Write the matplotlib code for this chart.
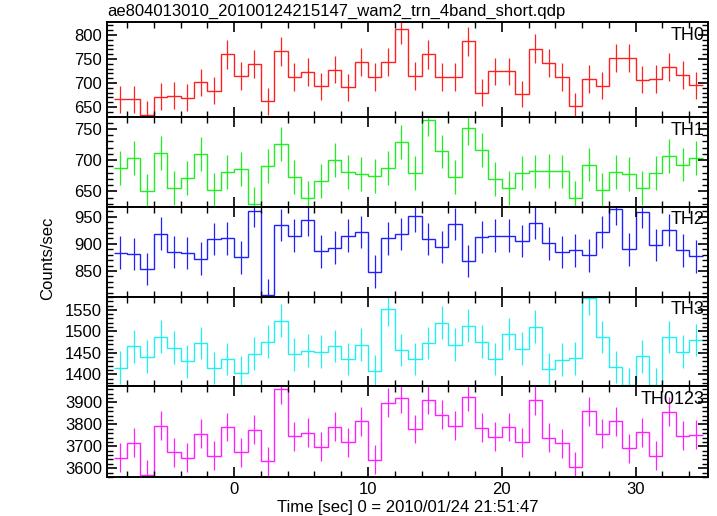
import numpy as np
import matplotlib
matplotlib.use("Agg")
import matplotlib.pyplot as plt
from matplotlib.ticker import MultipleLocator

plt.rcParams['font.family'] = ['Liberation Sans', 'DejaVu Sans']

# bin edges (1 s bins from -9 to 35)
edges = np.arange(-9, 36, 1)
centers = edges[:-1] + 0.5

th0 = [666, 666, 634, 671, 673, 669, 701, 684, 760, 714, 739, 662, 766, 712, 723,
       693, 728, 691, 743, 712, 744, 812, 715, 760, 712, 712, 787, 680, 724, 724,
       677, 771, 741, 712, 651, 708, 694, 752, 752, 707, 709, 733, 716, 695]
th0_err = [28, 28, 28, 28, 28, 28, 29, 28, 30, 29, 29, 28, 30, 29, 29,
           28, 29, 28, 29, 29, 29, 31, 29, 30, 29, 29, 30, 28, 29, 29,
           28, 30, 29, 29, 28, 29, 28, 30, 30, 29, 29, 29, 29, 28]

th1 = [688, 704, 651, 711, 655, 672, 710, 653, 681, 686, 630, 691, 726, 673, 639,
       667, 700, 681, 678, 675, 688, 729, 679, 765, 714, 673, 752, 716, 670, 655,
       679, 682, 683, 682, 639, 693, 653, 681, 678, 655, 680, 707, 693, 703]
th1_err = [27] * 44

th2 = [884, 881, 854, 919, 885, 883, 873, 909, 910, 875, 961, 806, 935, 915, 944,
       886, 893, 915, 922, 849, 910, 918, 952, 909, 894, 937, 868, 913, 915, 915,
       905, 939, 901, 885, 888, 879, 922, 964, 890, 959, 898, 926, 888, 877]
th2_err = [30] * 44

th3 = [1416, 1465, 1441, 1488, 1462, 1430, 1473, 1415, 1436, 1404, 1448, 1476, 1525, 1447, 1455,
       1453, 1466, 1436, 1469, 1408, 1551, 1457, 1436, 1473, 1520, 1469, 1513, 1476, 1436, 1494,
       1460, 1511, 1412, 1434, 1437, 1577, 1487, 1417, 1376, 1442, 1376, 1487, 1453, 1480]
th3_err = [38] * 44

th0123 = [3648, 3716, 3571, 3793, 3672, 3648, 3757, 3657, 3788, 3672, 3776, 3631, 3960, 3746, 3761,
          3698, 3790, 3719, 3815, 3639, 3899, 3919, 3779, 3912, 3844, 3793, 3927, 3784, 3744, 3788,
          3719, 3910, 3738, 3713, 3607, 3859, 3757, 3815, 3691, 3764, 3658, 3857, 3749, 3753]
th0123_err = [66] * 44

series = [
    ("TH0", th0, th0_err, "#ff2020", (629, 827), 50, 10),
    ("TH1", th1, th1_err, "#20ee20", (625, 769), 50, 10),
    ("TH2", th2, th2_err, "#2020ff", (802, 968), 50, 10),
    ("TH3", th3, th3_err, "#20f0f0", (1373, 1580), 50, 10),
    ("TH0123", th0123, th0123_err, "#ff20ff", (3560, 3975), 100, 20),
]

W, H = 717, 516
fig = plt.figure(figsize=(W / 100, H / 100), dpi=100)

# panel boundaries in pixels
bounds = [22, 117, 207, 297, 386, 477]
left, right = 107, 708

for i, (name, vals, errs, col, ylim, major, minor) in enumerate(series):
    top, bot = bounds[i], bounds[i + 1]
    ax = fig.add_axes([left / W, 1 - bot / H, (right - left) / W, (bot - top) / H])
    ax.stairs(vals, edges, color=col, lw=1.0, baseline=None)
    ax.vlines(centers, np.array(vals) - np.array(errs), np.array(vals) + np.array(errs),
              color=col, lw=0.9)
    ax.set_xlim(-9.5, 35.4)
    ax.set_ylim(*ylim)
    ax.xaxis.set_major_locator(MultipleLocator(10))
    ax.xaxis.set_minor_locator(MultipleLocator(2))
    ax.yaxis.set_major_locator(MultipleLocator(major))
    ax.yaxis.set_minor_locator(MultipleLocator(minor))
    ax.tick_params(which='both', direction='in', top=True, right=True, labelsize=12)
    ax.tick_params(which='major', length=7, width=1.2)
    ax.tick_params(which='minor', length=4, width=1)
    for sp in ax.spines.values():
        sp.set_linewidth(1.4)
    if i < len(series) - 1:
        ax.tick_params(labelbottom=False)
    else:
        ax.set_xlabel("Time [sec] 0 = 2010/01/24 21:51:47", fontsize=12, labelpad=2)
    ax.text(0.995, 0.95, name, transform=ax.transAxes, ha='right', va='top', fontsize=13)

fig.text(left / W, 1 - 11 / H, "ae804013010_20100124215147_wam2_trn_4band_short.qdp",
         ha='left', va='center', fontsize=12)
fig.text(48 / W, 0.5, "Counts/sec", rotation=90, ha='center', va='center', fontsize=12)

fig.savefig("out.png", dpi=100)
